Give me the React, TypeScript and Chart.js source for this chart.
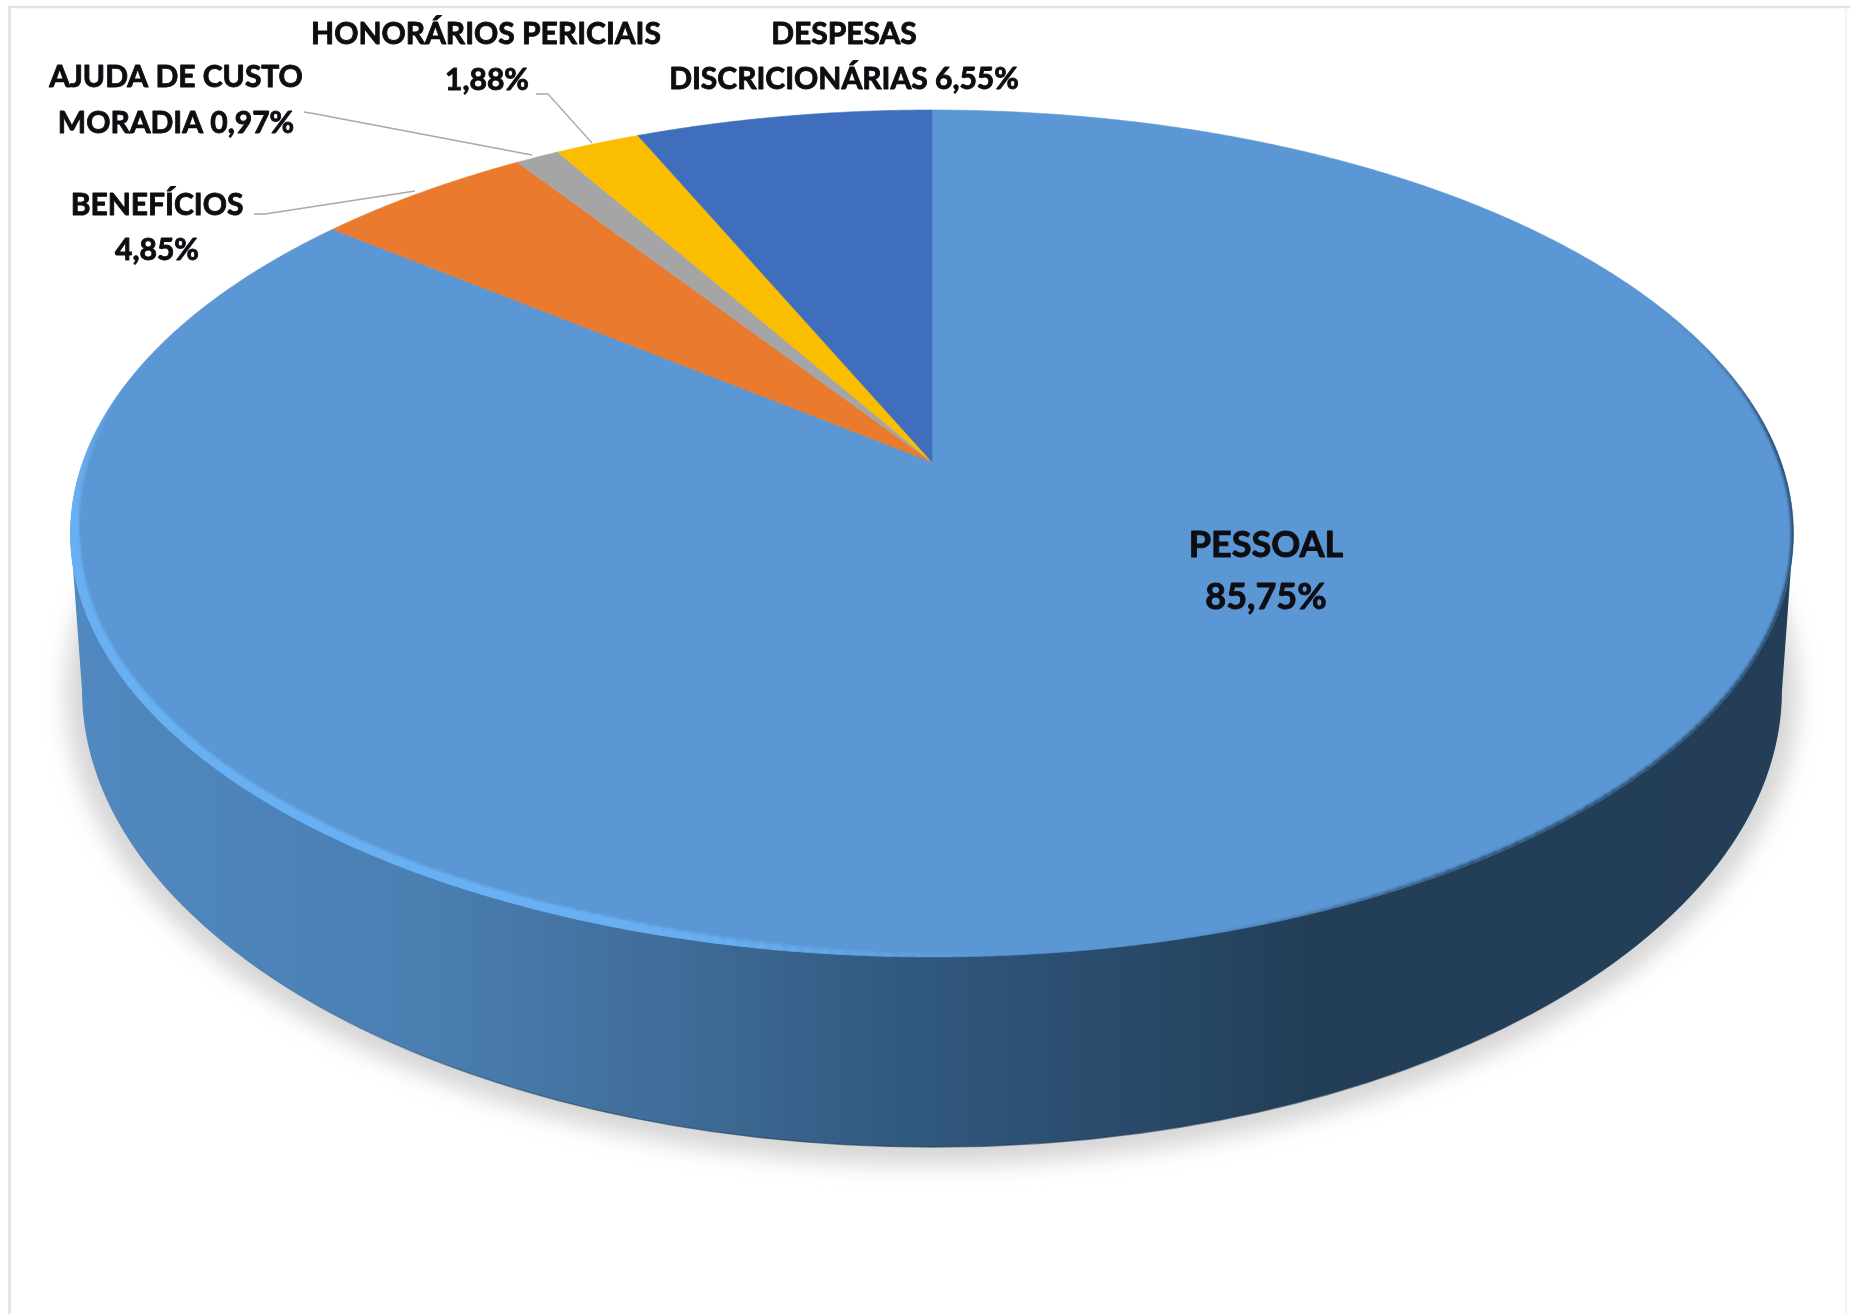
import React, { useEffect, useRef } from "react";
import { Chart, registerables } from "chart.js";

Chart.register(...registerables);

// Budget shares, clockwise from twelve o'clock
const categories = ["PESSOAL", "BENEFÍCIOS", "AJUDA DE CUSTO MORADIA", "HONORÁRIOS PERICIAIS", "DESPESAS DISCRICIONÁRIAS"];
const shares = [85.75, 4.85, 0.97, 1.88, 6.55];
const sliceColors = ["#5b97d4", "#e97a2e", "#a5a5a5", "#fbbd00", "#3f6ebd"];

// Lit-to-shaded tones of the cylinder wall, left to right
const wallStops: [number, string][] = [
  [0, "#5088bf"],
  [0.2, "#4a7fb2"],
  [0.35, "#3f6c98"],
  [0.5, "#30577c"],
  [0.6, "#2a4c6d"],
  [0.72, "#233f58"],
  [1, "#233e56"],
];

// The disc is a circle seen in perspective: the apex sits above the centre of the outline ellipse
const APEX = { x: 932, y: 462 };
const TILT = 0.1688;
const SPREAD_X = 849.1;
const SPREAD_Y = 411.4;
// Outline of the underside of the cylinder
const BASE = { x: 932, y: 690, rx: 850, ry: 457 };
const TOP_MID_Y = 533;
const TOP_RX = 861.5;

type Tag = {
  lines: string[];
  xs: number[];
  ys: number[];
  size: number;
  leader?: number[][];
};

const percent = (v: number) => v.toFixed(2).replace(".", ",") + "%";

// Text placement per slice; the figure is appended from the data
const tags: Tag[] = [
  { lines: ["PESSOAL", percent(shares[0])], xs: [1266, 1266], ys: [557, 609], size: 36 },
  {
    lines: ["BENEFÍCIOS", percent(shares[1])],
    xs: [157, 157],
    ys: [215, 260],
    size: 30,
    leader: [[254, 214], [265, 214], [415, 191]],
  },
  {
    lines: ["AJUDA DE CUSTO", "MORADIA " + percent(shares[2])],
    xs: [176, 176],
    ys: [87, 133],
    size: 30,
    leader: [[304, 112], [316, 114], [532, 155]],
  },
  {
    lines: ["HONORÁRIOS PERICIAIS", percent(shares[3])],
    xs: [486, 487],
    ys: [44, 90],
    size: 30,
    leader: [[536, 94], [548, 94], [592, 143]],
  },
  {
    lines: ["DESPESAS", "DISCRICIONÁRIAS " + percent(shares[4])],
    xs: [844, 844],
    ys: [44, 89],
    size: 30,
  },
];

// Maps an angle measured clockwise from the top onto the perspective rim
function rimPoint(theta: number) {
  const u = Math.sin(theta);
  const v = Math.cos(theta);
  const w = 1 + TILT * v;
  return { x: APEX.x + (SPREAD_X * u) / w, y: APEX.y - (SPREAD_Y * v) / w };
}

function traceRim(ctx: CanvasRenderingContext2D, from: number, to: number) {
  const steps = Math.max(2, Math.ceil((to - from) * 180));
  for (let i = 0; i <= steps; i++) {
    const p = rimPoint(from + ((to - from) * i) / steps);
    ctx.lineTo(p.x, p.y);
  }
}

// Tapered, blurred band following the rim between two angles
function rimBand(
  ctx: CanvasRenderingContext2D,
  lo: number,
  hi: number,
  color: string,
  minWidth: number,
  maxWidth: number,
  blur: number,
  edge: number
) {
  ctx.save();
  ctx.filter = `blur(${blur}px)`;
  ctx.lineCap = "round";
  ctx.strokeStyle = color;
  const n = 120;
  for (let i = 0; i < n; i++) {
    const t = i / n;
    const env = Math.min(1, t / edge, (1 - t) / edge);
    const a = rimPoint(lo + (hi - lo) * t);
    const b = rimPoint(lo + (hi - lo) * (t + 1 / n));
    ctx.globalAlpha = env;
    ctx.lineWidth = minWidth + (maxWidth - minWidth) * env;
    ctx.beginPath();
    ctx.moveTo(a.x, a.y);
    ctx.lineTo(b.x, b.y);
    ctx.stroke();
  }
  ctx.restore();
}

const cylinderPlugin = {
  id: "cylinder",
  beforeDatasetsDraw(chart: any) {
    const ctx: CanvasRenderingContext2D = chart.ctx;
    ctx.save();

    // Frame
    ctx.strokeStyle = "#e2e2e2";
    ctx.lineWidth = 2.5;
    ctx.beginPath();
    ctx.moveTo(9.5, 1314);
    ctx.lineTo(9.5, 7);
    ctx.lineTo(1850, 7);
    ctx.stroke();
    ctx.strokeStyle = "#f6f6f6";
    ctx.beginPath();
    ctx.moveTo(1846, 8);
    ctx.lineTo(1846, 1314);
    ctx.stroke();

    // Soft ground shadow
    ctx.save();
    ctx.filter = "blur(11px)";
    ctx.fillStyle = "#d6d6d6";
    ctx.beginPath();
    ctx.ellipse(BASE.x, BASE.y + 4, BASE.rx + 16, BASE.ry + 14, 0, 0, Math.PI * 2);
    ctx.fill();
    ctx.restore();

    // Cylinder wall
    const wall = ctx.createLinearGradient(82, 0, 1782, 0);
    wallStops.forEach(([o, c]) => wall.addColorStop(o, c));
    ctx.fillStyle = wall;
    ctx.beginPath();
    ctx.moveTo(APEX.x - TOP_RX, TOP_MID_Y);
    ctx.lineTo(BASE.x - BASE.rx, BASE.y);
    ctx.ellipse(BASE.x, BASE.y, BASE.rx, BASE.ry, 0, Math.PI, 0, true);
    ctx.lineTo(APEX.x + TOP_RX, TOP_MID_Y);
    ctx.closePath();
    ctx.fill();

    // Dark lip along the underside, fading out towards both sides
    const lip = ctx.createLinearGradient(200, 0, 1660, 0);
    lip.addColorStop(0, "rgba(28,52,78,0)");
    lip.addColorStop(0.25, "rgba(28,52,78,0.6)");
    lip.addColorStop(0.75, "rgba(28,52,78,0.6)");
    lip.addColorStop(1, "rgba(28,52,78,0)");
    ctx.strokeStyle = lip;
    ctx.lineWidth = 1.5;
    ctx.beginPath();
    ctx.ellipse(BASE.x, BASE.y, BASE.rx, BASE.ry, 0, Math.PI * 0.8, Math.PI * 0.2, true);
    ctx.stroke();
    ctx.restore();
  },
  // Slice angles come from the arc elements laid out by the doughnut controller
  beforeDatasetDraw(chart: any, args: any) {
    const ctx: CanvasRenderingContext2D = chart.ctx;
    const meta = chart.getDatasetMeta(args.index);
    ctx.save();
    meta.data.forEach((arc: any, i: number) => {
      const from = arc.startAngle + Math.PI / 2;
      const to = arc.endAngle + Math.PI / 2;
      ctx.beginPath();
      ctx.moveTo(APEX.x, APEX.y);
      traceRim(ctx, from, to);
      ctx.closePath();
      ctx.fillStyle = sliceColors[i];
      ctx.strokeStyle = sliceColors[i];
      ctx.lineWidth = 0.6;
      ctx.fill();
      ctx.stroke();
    });

    const first = meta.data[0];
    const disc = new Path2D();
    for (let i = 0; i <= 720; i++) {
      const p = rimPoint((i / 720) * Math.PI * 2);
      if (i === 0) disc.moveTo(p.x, p.y);
      else disc.lineTo(p.x, p.y);
    }
    disc.closePath();
    ctx.clip(disc);

    // Bevel highlight on the lit part of the rim, shaded edge on the far right
    const litEnd = Math.min(first.endAngle + Math.PI / 2, Math.PI * 1.56);
    rimBand(ctx, Math.PI * 0.97, litEnd, "#68b0f2", 4, 18, 1.5, 0.22);
    rimBand(ctx, Math.PI * 0.36, Math.PI * 0.93, "#2a4b6d", 1, 4, 1.5, 0.2);
    ctx.restore();
    return false;
  },
  afterDatasetsDraw(chart: any) {
    const ctx: CanvasRenderingContext2D = chart.ctx;
    ctx.save();
    ctx.strokeStyle = "#a9a9a9";
    ctx.lineWidth = 1.3;
    tags.forEach((tag) => {
      if (!tag.leader) return;
      ctx.beginPath();
      tag.leader.forEach(([x, y], i) => (i ? ctx.lineTo(x, y) : ctx.moveTo(x, y)));
      ctx.stroke();
    });
    ctx.fillStyle = "#0d0d12";
    ctx.strokeStyle = "#0d0d12";
    ctx.lineWidth = 0.9;
    ctx.lineJoin = "round";
    ctx.textAlign = "center";
    ctx.textBaseline = "alphabetic";
    tags.forEach((tag) => {
      ctx.font = `700 ${tag.size}px Lato, "Noto Sans", sans-serif`;
      tag.lines.forEach((line, i) => {
        ctx.fillText(line, tag.xs[i], tag.ys[i]);
        ctx.strokeText(line, tag.xs[i], tag.ys[i]);
      });
    });
    ctx.restore();
  },
};

export default function App() {
  const ref = useRef<HTMLCanvasElement | null>(null);

  useEffect(() => {
    document.body.style.margin = "0";
    document.body.style.background = "#ffffff";
    if (!ref.current) return;
    const chart = new Chart(ref.current, {
      type: "pie",
      data: {
        labels: categories,
        datasets: [{ data: shares, backgroundColor: sliceColors, borderWidth: 0 }],
      },
      options: {
        animation: false,
        responsive: false,
        devicePixelRatio: 1,
        plugins: { legend: { display: false }, tooltip: { enabled: false } },
      },
      plugins: [cylinderPlugin],
    });
    return () => chart.destroy();
  }, []);

  return <canvas ref={ref} width={1850} height={1314} style={{ display: "block" }} />;
}
